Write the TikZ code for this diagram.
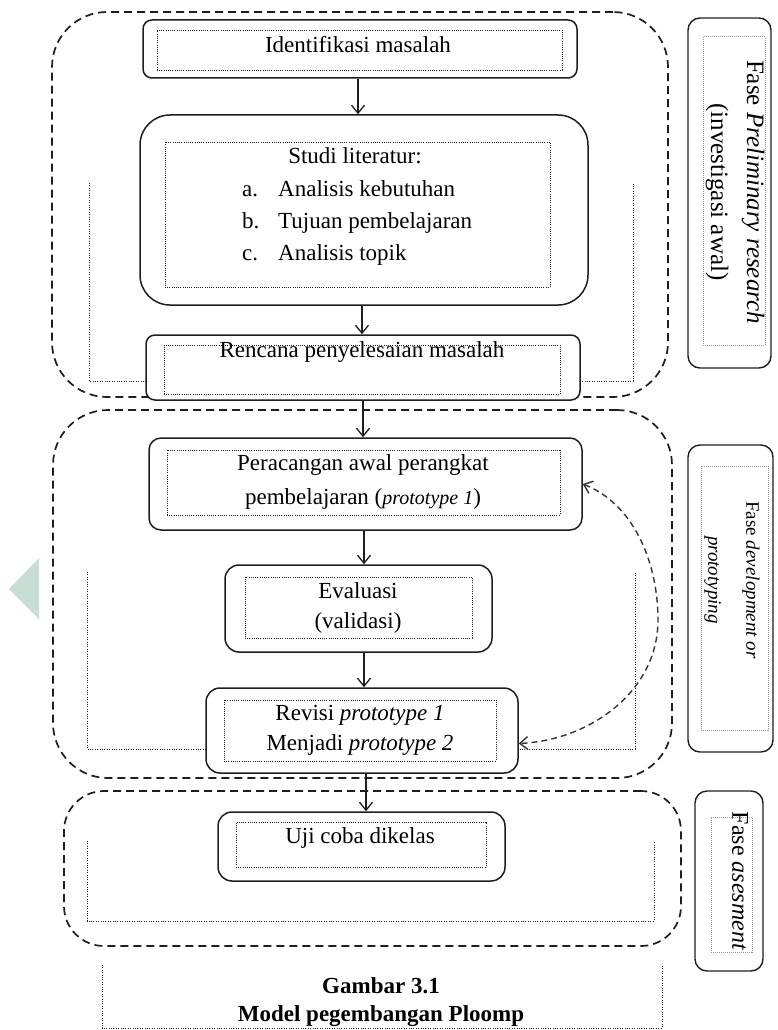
\documentclass[tikz,border=0pt]{standalone}
\usepackage{fontspec}
\setmainfont{Liberation Serif}
\usetikzlibrary{arrows.meta,fit}
\definecolor{wm}{RGB}{200,222,213}
\definecolor{ink}{RGB}{30,30,30}
\begin{document}
\begin{tikzpicture}[x=1pt,y=-1pt,
  phase/.style={draw=ink, line width=1.7pt, dash pattern=on 8pt off 5pt, inner sep=0pt},
  box/.style={draw=ink, line width=1.5pt, fill=white, inner sep=0pt},
  inner/.style={draw=ink, line width=0.9pt, dash pattern=on 1pt off 1.2pt, inner sep=0pt},
  labinner/.style={draw=black!40, line width=1pt, dash pattern=on 1pt off 1pt, inner sep=0pt},
  bracket/.style={draw=ink, line width=0.9pt, dash pattern=on 1pt off 1.4pt},
  arr/.style={draw=ink, line width=1.3pt, -{Straight Barb[length=8pt,width=13pt]}},
  dcurve/.style={draw=ink!90, line width=1.4pt, dash pattern=on 6pt off 4pt,
     {Straight Barb[length=8pt,width=13pt]}-{Straight Barb[length=8pt,width=13pt]}},
  txt/.style={font=\fontsize{23}{30}\selectfont, inner sep=0pt, anchor=base},
  lab/.style={inner sep=0pt, rotate=-90, align=center}
]
\useasboundingbox (0,0) rectangle (777,1030);

% watermark
\fill[wm] (39,558) -- (9,589) -- (39,619) -- cycle;

% ---------- phase 1 ----------
\node[phase, rounded corners=55pt, fit={(52,12) (668,397)}] (p1) {};
\draw[bracket] (89,183) -- (89,381) -- (633,381) -- (633,183);
\node[box, rounded corners=9pt, fit={(143,20) (577,78)}] (id) {};
\node[inner, fit={(157,30) (562,70)}] (idi) {};
\node[txt] (idt) at (358,53) {Identifikasi masalah};

\node[box, rounded corners=30pt, fit={(140,115) (588,305)}] (st) {};
\node[inner, fit={(165,142) (550,287)}] (sti) {};
\node[txt] (stt) at (355,163) {Studi literatur:};
\node[txt, anchor=base west] (sa) at (242,196) {a.};
\node[txt, anchor=base west] (sat) at (278,196) {Analisis kebutuhan};
\node[txt, anchor=base west] (sb) at (242,228) {b.};
\node[txt, anchor=base west] (sbt) at (278,228) {Tujuan pembelajaran};
\node[txt, anchor=base west] (sc) at (242,260) {c.};
\node[txt, anchor=base west] (sct) at (278,260) {Analisis topik};

\node[box, rounded corners=9pt, fit={(146,335) (580,400)}] (rc) {};
\node[inner, fit={(164,345) (560,394)}] (rci) {};
\node[txt] (rct) at (362,357) {Rencana penyelesaian masalah};

\node[draw=ink, line width=1.4pt, rounded corners=12pt, inner sep=0pt, fit={(688,18) (771,368)}] (l1) {};
\node[labinner, fit={(703,37) (765,345)}] (l1i) {};
\node[lab, font=\fontsize{25}{36}\selectfont] (l1t) at (735,192) {Fase \textit{Preliminary research}\\(investigasi awal)};

% ---------- phase 2 ----------
\node[phase, rounded corners=55pt, fit={(53,410) (672,778)}] (p2) {};
\draw[bracket] (87,572) -- (87,749) -- (635,749) -- (635,572);
\node[box, rounded corners=12pt, fit={(149,438) (582,530)}] (pr) {};
\node[inner, fit={(167,450) (560,515)}] (pri) {};
\node[txt] (prt1) at (363,470) {Peracangan awal perangkat};
\node[txt] (prt2) at (363,504) {pembelajaran (\textit{\fontsize{20}{24}\selectfont prototype 1})};

\node[box, rounded corners=14pt, fit={(225,565) (492,652)}] (ev) {};
\node[inner, fit={(245,577) (472,638)}] (evi) {};
\node[txt] (evt1) at (358,598) {Evaluasi};
\node[txt] (evt2) at (358,628) {(validasi)};

\node[box, rounded corners=14pt, fit={(206,688) (518,773)}] (rv) {};
\node[inner, fit={(224,700) (496,761)}] (rvi) {};
\node[txt] (rvt1) at (360,720) {Revisi \textit{prototype 1}};
\node[txt] (rvt2) at (360,750) {Menjadi \textit{prototype 2}};

\coordinate (cv) at (658,620);
\draw[dcurve] (pr.east) .. controls (632,503) and (658,560) .. (cv)
   .. controls (658,690) and (592,740) .. ([yshift=-13pt]rv.east);

\node[draw=ink, line width=1.4pt, rounded corners=12pt, inner sep=0pt, fit={(688,445) (773,752)}] (l2) {};
\node[labinner, fit={(701,466) (768,730)}] (l2i) {};
\node[lab, font=\fontsize{19}{38}\selectfont] (l2t) at (732,580) {Fase \textit{development or}\\\textit{prototyping}};

% ---------- phase 3 ----------
\node[phase, rounded corners=40pt, fit={(64,791) (681,946)}] (p3) {};
\draw[bracket] (87,841) -- (87,921) -- (654,921) -- (654,841);
\node[box, rounded corners=14pt, fit={(218,812) (505,881)}] (uj) {};
\node[inner, fit={(236,822) (486,867)}] (uji) {};
\node[txt] (ujt) at (360,843) {Uji coba dikelas};

\node[draw=ink, line width=1.4pt, rounded corners=12pt, inner sep=0pt, fit={(695,791) (763,971)}] (l3) {};
\node[labinner, fit={(711,817) (752,952)}] (l3i) {};
\node[lab, font=\fontsize{24}{30}\selectfont] (l3t) at (740,881) {Fase \textit{asesment}};

% ---------- arrows ----------
\coordinate (x1) at (358,0);
\coordinate (x2) at (362,0);
\coordinate (x3) at (363,0);
\coordinate (x4) at (364,0);
\coordinate (x5) at (364,0);
\coordinate (x6) at (366,0);
\draw[arr] (id.south -| x1) -- (st.north -| x1);
\draw[arr] (st.south -| x2) -- (rc.north -| x2);
\draw[arr] (rc.south -| x3) -- (pr.north -| x3);
\draw[arr] (pr.south -| x4) -- (ev.north -| x4);
\draw[arr] (ev.south -| x5) -- (rv.north -| x5);
\draw[arr] (rv.south -| x6) -- (uj.north -| x6);

% ---------- caption ----------
\draw[bracket] (102,965) -- (102,1028) -- (662,1028) -- (662,965);
\node[txt, font=\bfseries\fontsize{23}{28}\selectfont] (cap1) at (381,993) {Gambar 3.1};
\node[txt, font=\bfseries\fontsize{23}{28}\selectfont] (cap2) at (381,1021) {Model pegembangan Ploomp};
\end{tikzpicture}
\end{document}
